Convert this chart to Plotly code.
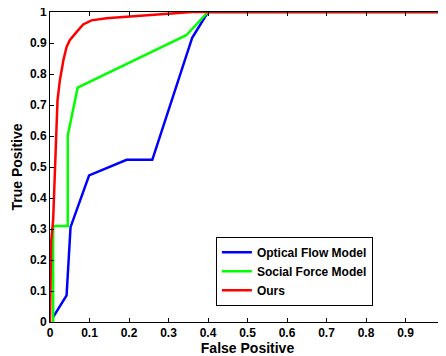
import plotly.graph_objects as go

optical_x = [0.008, 0.042, 0.052, 0.099, 0.194, 0.259, 0.36, 0.40, 1.0]
optical_y = [0.016, 0.086, 0.306, 0.473, 0.523, 0.523, 0.917, 1.0, 1.0]

social_x = [0.008, 0.008, 0.045, 0.045, 0.07, 0.345, 0.40, 1.0]
social_y = [0.0, 0.31, 0.31, 0.602, 0.756, 0.925, 1.0, 1.0]

ours_x = [0.0, 0.001, 0.003, 0.008, 0.011, 0.015, 0.019, 0.025, 0.034, 0.042, 0.05,
          0.067, 0.084, 0.105, 0.143, 0.194, 0.252, 0.36, 1.0]
ours_y = [0.0, 0.17, 0.26, 0.33, 0.457, 0.608, 0.715, 0.78, 0.845, 0.887, 0.909,
          0.935, 0.96, 0.973, 0.98, 0.985, 0.99, 1.0, 1.0]

ticks = [0, 0.1, 0.2, 0.3, 0.4, 0.5, 0.6, 0.7, 0.8, 0.9, 1]
tick_text = ["0", "0.1", "0.2", "0.3", "0.4", "0.5", "0.6", "0.7", "0.8", "0.9", "1"]

FONT = "Liberation Sans, Arial"

fig = go.Figure()
fig.add_trace(go.Scatter(x=optical_x, y=optical_y, mode="lines", name="Optical Flow Model",
                         line=dict(color="#0000FF", width=2.5)))
fig.add_trace(go.Scatter(x=social_x, y=social_y, mode="lines", name="Social Force Model",
                         line=dict(color="#00FF00", width=2.5)))
fig.add_trace(go.Scatter(x=ours_x, y=ours_y, mode="lines", name="Ours",
                         line=dict(color="#FF0000", width=2.5)))

axis_common = dict(
    range=[0, 1], tickvals=ticks, ticktext=tick_text, showgrid=False, zeroline=False,
    showline=True, linecolor="black", linewidth=1, mirror="ticks",
    ticks="inside", ticklen=4, tickcolor="black", automargin=False,
    ticklabeloverflow="allow",
    tickfont=dict(family=FONT, size=12, color="black", weight="bold"),
)

# page body has an 8px margin, so the figure is sized to fill the rest of the window
fig.update_layout(
    width=438, height=348,
    margin=dict(l=42, r=1, t=4, b=34, autoexpand=False),
    paper_bgcolor="white", plot_bgcolor="white",
    xaxis=dict(axis_common, title=dict(text="False Positive", standoff=6,
               font=dict(family=FONT, size=14, color="black", weight="bold"))),
    yaxis=dict(axis_common, title=dict(text="True Positive", standoff=4,
               font=dict(family=FONT, size=14, color="black", weight="bold"))),
    legend=dict(x=0.42, y=0.275, xanchor="left", yanchor="top",
                bordercolor="black", borderwidth=1, bgcolor="white",
                font=dict(family=FONT, size=12, color="black", weight="bold"),
                tracegroupgap=0),
    showlegend=True,
)

fig.write_html("out.html")
